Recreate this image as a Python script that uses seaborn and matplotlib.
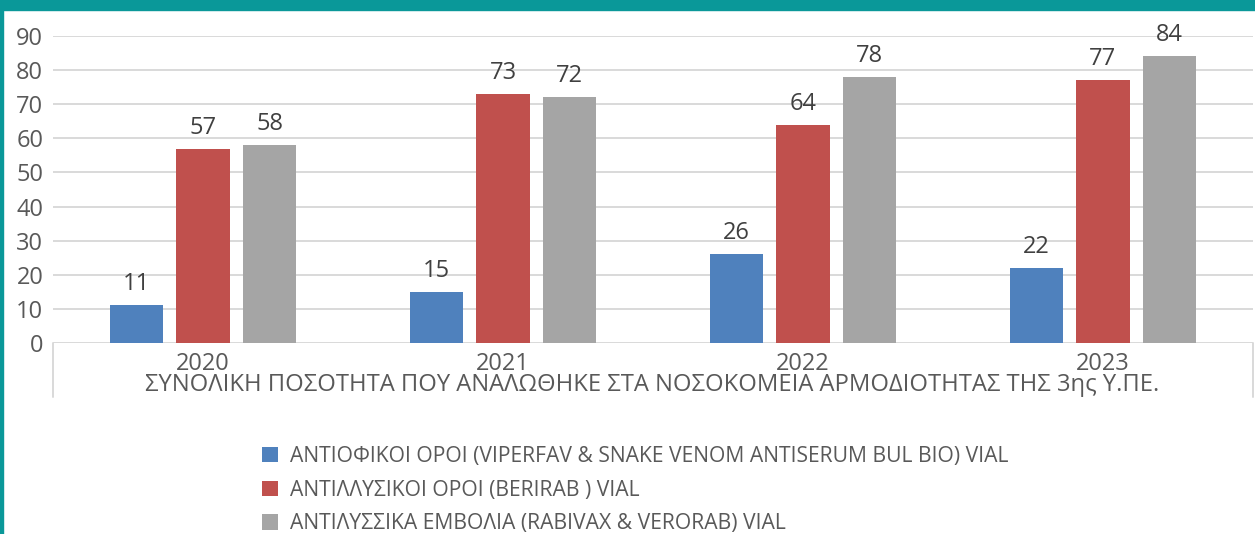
import matplotlib
matplotlib.use("Agg")
import matplotlib.pyplot as plt
from matplotlib.patches import Rectangle
import seaborn as sns
import pandas as pd

years = ["2020", "2021", "2022", "2023"]
series = [
    "ΑΝΤΙΟΦΙΚΟΙ ΟΡΟΙ (VIPERFAV & SNAKE VENOM ANTISERUM BUL BIO) VIAL",
    "ΑΝΤΙΛΛΥΣΙΚΟΙ ΟΡΟΙ (BERIRAB ) VIAL",
    "ΑΝΤΙΛΥΣΣΙΚΑ ΕΜΒΟΛΙΑ (RABIVAX & VERORAB) VIAL",
]
antiofikoi = [11, 15, 26, 22]
antillysikoi = [57, 73, 64, 77]
emvolia = [58, 72, 78, 84]
yticks = [0, 10, 20, 30, 40, 50, 60, 70, 80, 90]
axis_title = "ΣΥΝΟΛΙΚΗ ΠΟΣΟΤΗΤΑ ΠΟΥ ΑΝΑΛΩΘΗΚΕ ΣΤΑ ΝΟΣΟΚΟΜΕΙΑ ΑΡΜΟΔΙΟΤΗΤΑΣ ΤΗΣ 3ης Υ.ΠΕ."

colors = ["#4F81BD", "#C0504D", "#A5A5A5"]

rows = []
for name, vals in zip(series, [antiofikoi, antillysikoi, emvolia]):
    for y, v in zip(years, vals):
        rows.append({"year": y, "series": name, "value": v})
df = pd.DataFrame(rows)

sns.set_theme(style="white")
plt.rcParams["font.family"] = ["Open Sans", "DejaVu Sans"]

W, H = 1255, 534
fig = plt.figure(figsize=(W / 100, H / 100), dpi=100)
x0, x1 = 53, 1253
ytop, ybot = 36, 343
ax = fig.add_axes([x0 / W, 1 - ybot / H, (x1 - x0) / W, (ybot - ytop) / H])

sns.barplot(data=df, x="year", y="value", hue="series", order=years,
            hue_order=series, palette=colors, width=0.665, gap=0.2,
            saturation=1, ax=ax, legend=True, linewidth=0)

ax.set_ylim(0, 90)
ax.set_xlim(-0.5, 3.5)
ax.set_yticks(yticks)
ax.yaxis.grid(True, color="#D9D9D9", linewidth=1.4)
ax.set_axisbelow(True)
for s in ["top", "right", "left", "bottom"]:
    ax.spines[s].set_visible(False)
ax.tick_params(axis="both", length=0, labelsize=17, colors="#595959")
ax.tick_params(axis="x", pad=6.5)
ax.tick_params(axis="y", pad=7)
ax.set_xlabel("")
ax.set_ylabel("")

for c in ax.containers:
    ax.bar_label(c, padding=6.5, fontsize=17, color="#404040")

# category axis box lines
drop = (397 - ybot) / (ybot - ytop)
for xa in [0, 1]:
    ax.plot([xa, xa], [0, -drop], transform=ax.transAxes, color="#D9D9D9",
            linewidth=1.4, clip_on=False)

fig.text(652 / W, 1 - 385 / H, axis_title, ha="center", va="center",
         fontsize=17.1, color="#595959")

handles, labels = ax.get_legend_handles_labels()
ax.get_legend().remove()
leg = fig.legend(handles, labels, loc="upper left",
                 bbox_to_anchor=(262 / W, 1 - 446 / H), frameon=False,
                 fontsize=15.2, labelcolor="#595959", handlelength=0.75,
                 handleheight=0.75, handletextpad=0.6, labelspacing=0.6,
                 borderaxespad=0, borderpad=0)

# teal frame
fig.patches.append(Rectangle((0, 1 - 10 / H), 1, 10 / H, transform=fig.transFigure,
                             color="#0A9899", zorder=10))
fig.patches.append(Rectangle((0, 0), 3 / W, 1, transform=fig.transFigure,
                             color="#0A9899", zorder=10))

fig.savefig("out.png", dpi=100, facecolor="white")
